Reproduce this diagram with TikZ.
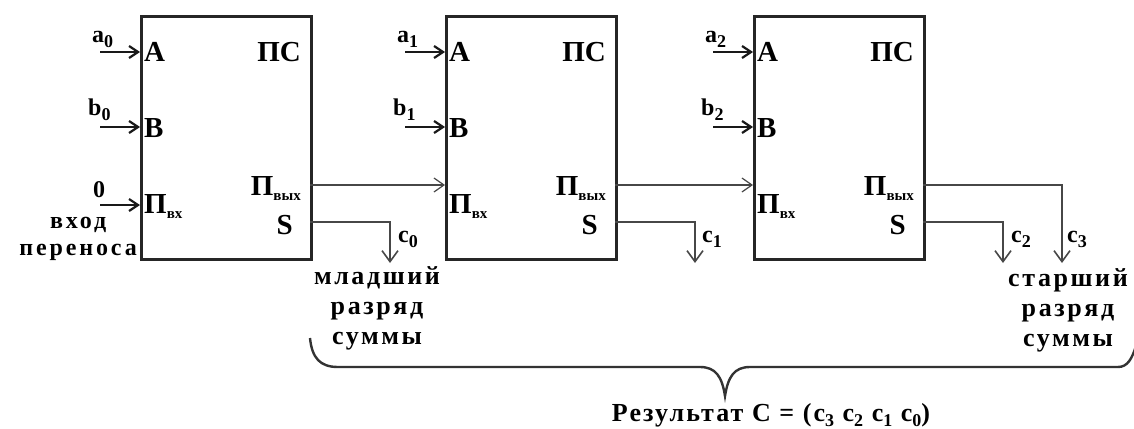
\documentclass[tikz,border=0pt]{standalone}
\usepackage{fontspec}
\setmainfont{Liberation Serif}
\usetikzlibrary{arrows.meta,calc}
\newcommand{\lowsub}[2][15]{\raisebox{-5pt}{\fontsize{#1}{#1}\selectfont #2}}
\begin{document}
\begin{tikzpicture}[x=1pt,y=-1pt,
  blk/.style={draw=black!85, line width=2.6pt, minimum width=170pt, minimum height=243pt, anchor=north west, inner sep=0pt},
  lbl/.style={font=\fontsize{29}{30}\selectfont\bfseries, inner sep=0pt},
  sig/.style={font=\fontsize{24}{26}\selectfont\bfseries, inner sep=0pt, anchor=base west},
  txt/.style={font=\fontsize{26}{30}\selectfont\bfseries\addfontfeature{LetterSpace=10}, align=center, inner sep=0pt},
  inarr/.style={-{Straight Barb[length=9pt,width=12pt,line width=2.2pt]}, line width=2.2pt, black!90},
  wire/.style={line width=2pt, black!72},
  outarr/.style={wire, -{Straight Barb[length=11pt,width=16pt,line width=1.6pt]}},
]
\useasboundingbox (0,0) rectangle (1134,428);

\foreach \i/\x in {0/140,1/445,2/753}{
  \node[blk] (p\i) at (\x,15) {};
  \node[lbl, anchor=base west] (A\i) at (\x+4,62) {A};
  \node[lbl, anchor=base west] (B\i) at (\x+4,137) {B};
  \node[lbl, anchor=base west] (Pin\i) at (\x+4,213) {П\lowsub{вх}};
  \node[lbl, anchor=base east] (PS\i) at (\x+161,62) {ПС};
  \node[lbl, anchor=base east] (Pout\i) at (\x+161,195) {П\lowsub{вых}};
  \node[lbl, anchor=base east] (S\i) at (\x+153,234) {S};
  \coordinate (ia\i) at (\x-40,52);
  \coordinate (ib\i) at (\x-40,127);
  \node[sig] (la\i) at (\x-48,43) {a\lowsub[18]{\i}};
  \node[sig] (lb\i) at (\x-52,115) {b\lowsub[18]{\i}};
  \draw[inarr] (ia\i) -- (ia\i -| p\i.west);
  \draw[inarr] (ib\i) -- (ib\i -| p\i.west);
  \coordinate (co\i) at (\x+170,185);
  \coordinate (so\i) at (\x+170,222);
}

% carry input of the first stage
\coordinate (ic0) at (100,205);
\node[sig] (zero) at (93,197) {0};
\draw[inarr] (ic0) -- (ic0 -| p0.west);
\node[txt, anchor=east, font=\fontsize{24}{27}\selectfont\bfseries\addfontfeature{LetterSpace=12}] (vhod) at (137,239) {вход\\переноса};

% carry chain
\draw[wire, -{Straight Barb[length=10pt,width=14pt,line width=1.2pt]}] (co0) -- (co0 -| p1.west);
\draw[wire, -{Straight Barb[length=10pt,width=14pt,line width=1.2pt]}] (co1) -- (co1 -| p2.west);

% sum outputs
\coordinate (c0e) at (390,263);
\coordinate (c1e) at (695,263);
\coordinate (c2e) at (1003,263);
\coordinate (c3e) at (1062,263);
\draw[outarr] (so0) -| (c0e);
\draw[outarr] (so1) -| (c1e);
\draw[outarr] (so2) -| (c2e);
\draw[outarr] (co2) -| (c3e);
\node[sig] (lc0) at (398,242) {c\lowsub[18]{0}};
\node[sig] (lc1) at (702,242) {c\lowsub[18]{1}};
\node[sig] (lc2) at (1011,242) {c\lowsub[18]{2}};
\node[sig] (lc3) at (1067,242) {c\lowsub[18]{3}};

\node[txt] (low) at (377,308) {младший\\разряд\\суммы};
\node[txt] (high) at (1068,310) {старший\\разряд\\суммы};

% brace
\coordinate (bl) at (310,338);
\coordinate (bt) at (725,396);
\coordinate (br) at (1136,346);
\draw[line width=2.4pt, black!80] (bl) .. controls (312,358) and (320,367) .. (338,367)
  -- (700,367) .. controls (716,367) and (722,377) .. (bt)
  .. controls (728,377) and (734,367) .. (750,367)
  -- (1118,367) .. controls (1128,367) and (1132,358) .. (br);
\node[font=\fontsize{26}{28}\selectfont\bfseries\addfontfeature{LetterSpace=8}, inner sep=0pt, anchor=base] (res) at (771,421) {Результат C = (c\lowsub[18]{3} c\lowsub[18]{2} c\lowsub[18]{1} c\lowsub[18]{0})};
\end{tikzpicture}
\end{document}
